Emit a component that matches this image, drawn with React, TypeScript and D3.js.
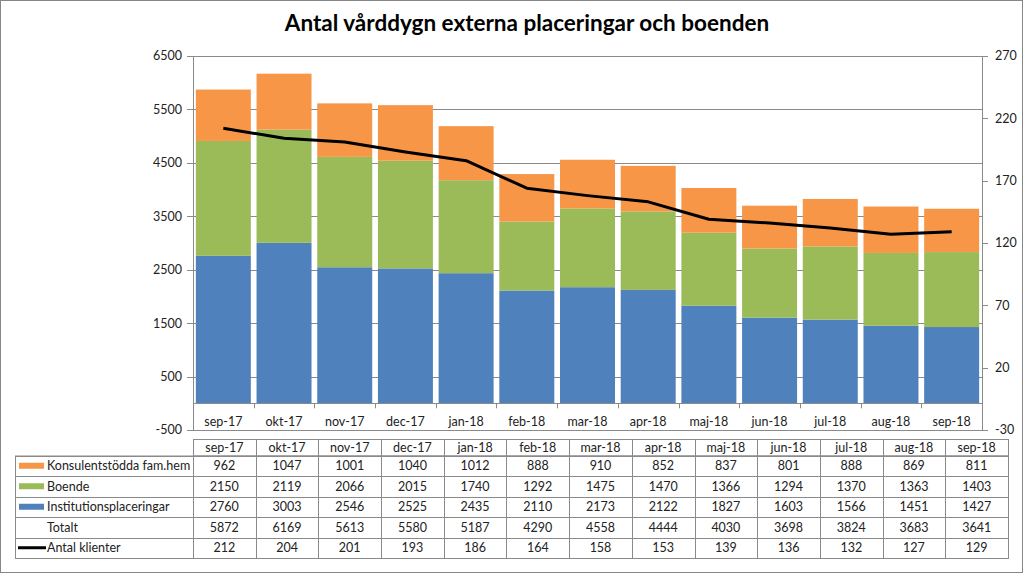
import React from 'react';
import * as d3 from 'd3';

const categories = ['sep-17', 'okt-17', 'nov-17', 'dec-17', 'jan-18', 'feb-18', 'mar-18', 'apr-18', 'maj-18', 'jun-18', 'jul-18', 'aug-18', 'sep-18'];
const konsulent = [962, 1047, 1001, 1040, 1012, 888, 910, 852, 837, 801, 888, 869, 811];
const boende = [2150, 2119, 2066, 2015, 1740, 1292, 1475, 1470, 1366, 1294, 1370, 1363, 1403];
const institution = [2760, 3003, 2546, 2525, 2435, 2110, 2173, 2122, 1827, 1603, 1566, 1451, 1427];
const totalt = [5872, 6169, 5613, 5580, 5187, 4290, 4558, 4444, 4030, 3698, 3824, 3683, 3641];
const klienter = [212, 204, 201, 193, 186, 164, 158, 153, 139, 136, 132, 127, 129];
const leftTicks = [-500, 500, 1500, 2500, 3500, 4500, 5500, 6500];
const rightTicks = [-30, 20, 70, 120, 170, 220, 270];
const seriesNames = ['Konsulentstödda fam.hem', 'Boende', 'Institutionsplaceringar', 'Totalt', 'Antal klienter'];

const COL_BLUE = '#4F81BD';
const COL_GREEN = '#9BBB59';
const COL_ORANGE = '#F79646';
const FONT = 'Lato, "Open Sans", sans-serif';

export default function App() {
  const W = 1024, H = 574;
  const plotL = 193, plotR = 982, plotT = 56, plotB = 430;
  const yL = d3.scaleLinear().domain([-500, 6500]).range([plotB, plotT]);
  const yR = d3.scaleLinear().domain([-30, 270]).range([plotB, plotT]);
  const x = d3.scaleBand<string>().domain(categories).range([plotL, plotR]).paddingInner(0.094).paddingOuter(0.047);
  const step = x.step();
  const xc = (c: string) => (x(c) as number) + x.bandwidth() / 2;

  const rows = categories.map((c, i) => ({ cat: c, inst: institution[i], boende: boende[i], kons: konsulent[i] }));
  const stack = d3.stack<any>().keys(['inst', 'boende', 'kons']);
  const stacked = stack(rows);
  const colors = [COL_BLUE, COL_GREEN, COL_ORANGE];

  const line = d3.line<number>().x((_, i) => xc(categories[i])).y(d => yR(d));

  // table
  const tL = 15, tDataL = 193, tR = 1008;
  const tx = d3.scaleBand<string>().domain(categories).range([tDataL, tR]);
  const headTop = 439, headBot = 455.5;
  const rowH = 20.5;
  const tableRows = [konsulent, boende, institution, totalt, klienter];
  const tBot = headBot + rowH * tableRows.length;
  const grid = '#8a8a8a';
  const textCol = '#222';

  return (
    <svg width={W} height={H} style={{ position: 'absolute', left: 0, top: 0, background: '#fff' }} fontFamily={FONT}>
      <rect x={0.5} y={0.5} width={1022} height={572} fill="#fff" stroke="#878787" />
      <text x={527} y={31} textAnchor="middle" fontSize={22.5} fontWeight="bold" fill="#000">Antal vårddygn externa placeringar och boenden</text>

      {/* gridlines */}
      {leftTicks.map(t => (
        <line key={'g' + t} x1={plotL} x2={plotR} y1={Math.round(yL(t)) + 0.5} y2={Math.round(yL(t)) + 0.5} stroke={grid} strokeWidth={1} />
      ))}

      {/* bars */}
      {stacked.map((s, si) => (
        <g key={si} fill={colors[si]}>
          {s.map((d, i) => (
            <rect key={i} x={x(categories[i])} width={x.bandwidth()} y={yL(d[1])} height={yL(d[0]) - yL(d[1])} />
          ))}
        </g>
      ))}

      {/* axes */}
      <line x1={plotL + 0.5} x2={plotL + 0.5} y1={plotT} y2={plotB} stroke={grid} />
      <line x1={plotR + 0.5} x2={plotR + 0.5} y1={plotT} y2={plotB} stroke={grid} />
      {leftTicks.map(t => (
        <g key={'lt' + t}>
          <line x1={plotL - 6} x2={plotL} y1={Math.round(yL(t)) + 0.5} y2={Math.round(yL(t)) + 0.5} stroke={grid} />
          <text x={plotL - 11} y={yL(t)} dy="0.35em" textAnchor="end" fontSize={12.5} fill={textCol}>{t}</text>
        </g>
      ))}
      {rightTicks.map(t => (
        <g key={'rt' + t}>
          <line x1={plotR} x2={plotR + 6} y1={Math.round(yR(t)) + 0.5} y2={Math.round(yR(t)) + 0.5} stroke={grid} />
          <text x={plotR + 13} y={yR(t)} dy="0.35em" textAnchor="start" fontSize={12.5} fill={textCol}>{t}</text>
        </g>
      ))}
      {/* category axis at zero */}
      <line x1={plotL} x2={plotR} y1={Math.round(yL(0)) + 0.5} y2={Math.round(yL(0)) + 0.5} stroke={grid} />
      {d3.range(categories.length + 1).map(i => {
        const xx = Math.round(plotL + i * step) + 0.5;
        return <line key={'ct' + i} x1={xx} x2={xx} y1={yL(0)} y2={yL(0) + 5} stroke={grid} />;
      })}
      {categories.map(c => (
        <text key={'cl' + c} x={xc(c)} y={426} textAnchor="middle" fontSize={12.5} fill={textCol}>{c}</text>
      ))}

      {/* line */}
      <path d={line(klienter) as string} fill="none" stroke="#000" strokeWidth={3} strokeLinejoin="round" />

      {/* data table */}
      <g stroke={grid} strokeWidth={1} fill="none">
        <rect x={tDataL + 0.5} y={headTop + 0.5} width={tR - tDataL} height={headBot - headTop} />
        <rect x={tL + 0.5} y={headBot + 0.5} width={tR - tL} height={tBot - headBot} />
        {tableRows.map((_, r) => (
          <line key={'hr' + r} x1={tL} x2={tR} y1={Math.round(headBot + r * rowH) + 0.5} y2={Math.round(headBot + r * rowH) + 0.5} />
        ))}
        {categories.map(c => (
          <line key={'vl' + c} x1={Math.round(tx(c) as number) + 0.5} x2={Math.round(tx(c) as number) + 0.5} y1={headTop} y2={tBot} />
        ))}
      </g>
      {categories.map(c => (
        <text key={'th' + c} x={(tx(c) as number) + tx.bandwidth() / 2} y={headTop + (headBot - headTop) / 2} dy="0.35em" textAnchor="middle" fontSize={12.5} fill={textCol}>{c}</text>
      ))}
      {tableRows.map((vals, r) => (
        <g key={'tr' + r}>
          {vals.map((v, i) => (
            <text key={i} x={(tx(categories[i]) as number) + tx.bandwidth() / 2} y={headBot + r * rowH + rowH / 2} dy="0.35em" textAnchor="middle" fontSize={12.5} fill={textCol}>{v}</text>
          ))}
        </g>
      ))}
      {/* legend keys in table */}
      {seriesNames.map((n, r) => {
        const cy = headBot + r * rowH + rowH / 2;
        let key = null;
        if (r < 3) {
          key = <rect x={19} y={cy - 3} width={25} height={6} fill={[COL_ORANGE, COL_GREEN, COL_BLUE][r]} />;
        } else if (r === 4) {
          key = <line x1={18} x2={46} y1={cy} y2={cy} stroke="#000" strokeWidth={3} />;
        }
        return (
          <g key={'lg' + r}>
            {key}
            <text x={47} y={cy} dy="0.35em" fontSize={12.5} fill={textCol}>{n}</text>
          </g>
        );
      })}
    </svg>
  );
}
